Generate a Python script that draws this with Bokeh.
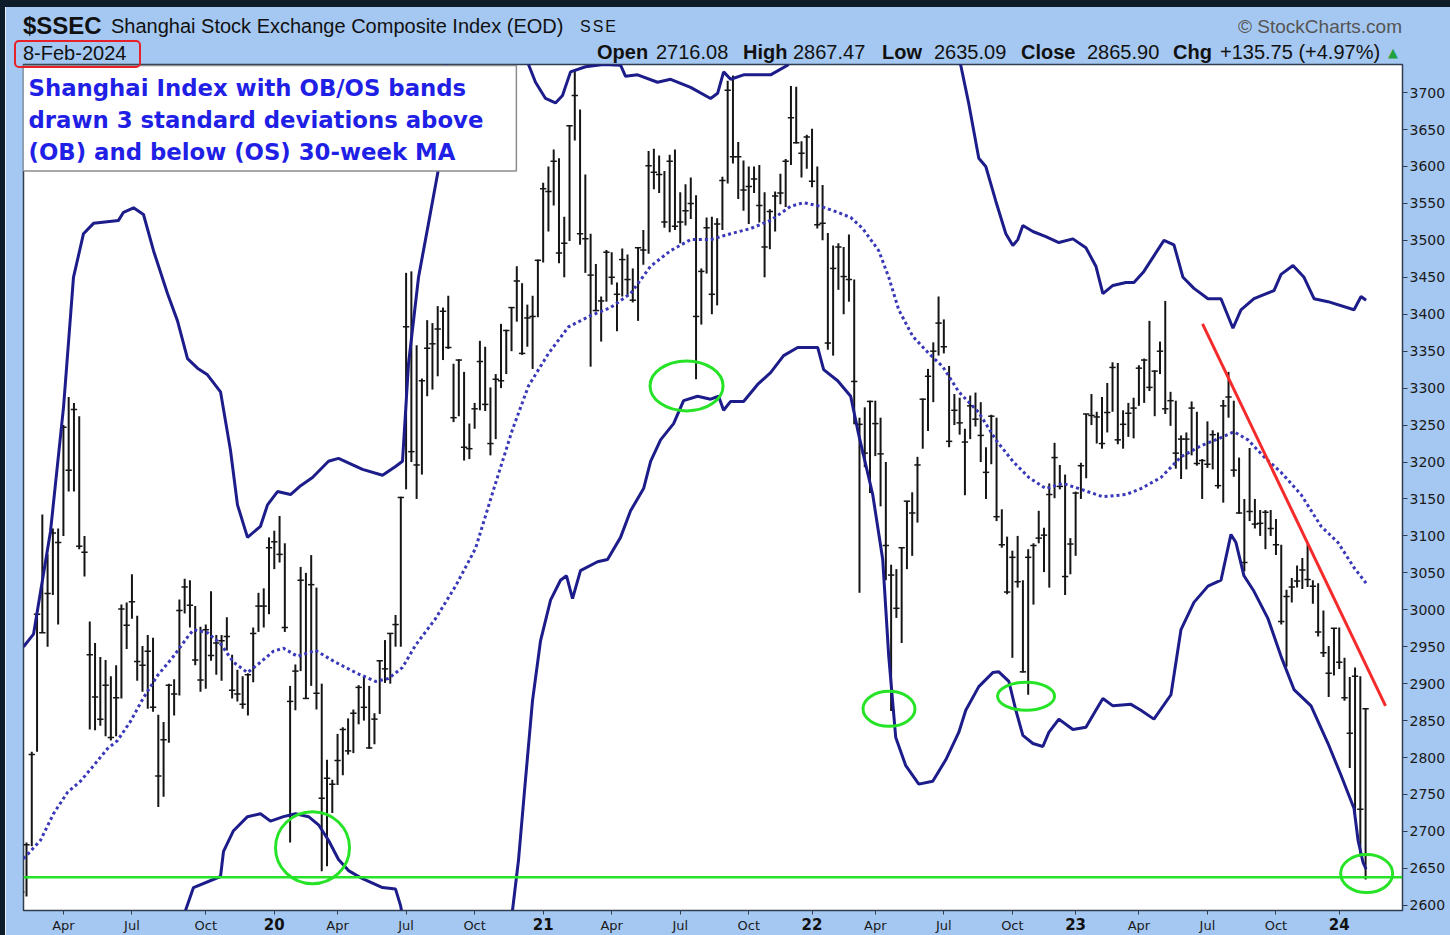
import datetime as dt
from bokeh.plotting import figure
from bokeh.models import Range1d, FixedTicker, Label, Span, ColumnDataSource, LinearAxis, Div
from bokeh.layouts import row, column
from bokeh.embed import file_html
from bokeh.resources import INLINE

# ---------------- weekly bars (week's last trading day) ----------------
dates = [
    "2019-02-01","2019-02-15","2019-02-22","2019-03-01","2019-03-08","2019-03-15","2019-03-22","2019-03-29",
    "2019-04-04","2019-04-12","2019-04-19","2019-04-26","2019-04-30","2019-05-10","2019-05-17","2019-05-24",
    "2019-05-31","2019-06-06","2019-06-14","2019-06-21","2019-06-28","2019-07-05","2019-07-12","2019-07-19",
    "2019-07-26","2019-08-02","2019-08-09","2019-08-16","2019-08-23","2019-08-30","2019-09-06","2019-09-12",
    "2019-09-20","2019-09-27","2019-09-30","2019-10-11","2019-10-18","2019-10-25","2019-11-01","2019-11-08",
    "2019-11-15","2019-11-22","2019-11-29","2019-12-06","2019-12-13","2019-12-20","2019-12-27",
    "2020-01-03","2020-01-10","2020-01-17","2020-01-23","2020-02-07","2020-02-14","2020-02-21","2020-02-28",
    "2020-03-06","2020-03-13","2020-03-20","2020-03-27","2020-04-03","2020-04-10","2020-04-17","2020-04-24",
    "2020-04-30","2020-05-08","2020-05-15","2020-05-22","2020-05-29","2020-06-05","2020-06-12","2020-06-19",
    "2020-06-24","2020-07-03","2020-07-10","2020-07-17","2020-07-24","2020-07-31","2020-08-07","2020-08-14",
    "2020-08-21","2020-08-28","2020-09-04","2020-09-11","2020-09-18","2020-09-25","2020-09-30","2020-10-09",
    "2020-10-16","2020-10-23","2020-10-30","2020-11-06","2020-11-13","2020-11-20","2020-11-27","2020-12-04",
    "2020-12-11","2020-12-18","2020-12-25","2020-12-31",
    "2021-01-08","2021-01-15","2021-01-22","2021-01-29","2021-02-05","2021-02-10","2021-02-19","2021-02-26",
    "2021-03-05","2021-03-12","2021-03-19","2021-03-26","2021-04-02","2021-04-09","2021-04-16","2021-04-23",
    "2021-04-30","2021-05-07","2021-05-14","2021-05-21","2021-05-28","2021-06-04","2021-06-11","2021-06-18",
    "2021-06-25","2021-07-02","2021-07-09","2021-07-16","2021-07-23","2021-07-30","2021-08-06","2021-08-13",
    "2021-08-20","2021-08-27","2021-09-03","2021-09-10","2021-09-17","2021-09-24","2021-09-30","2021-10-15",
    "2021-10-22","2021-10-29","2021-11-05","2021-11-12","2021-11-19","2021-11-26","2021-12-03","2021-12-10",
    "2021-12-17","2021-12-24","2021-12-31",
    "2022-01-07","2022-01-14","2022-01-21","2022-01-28","2022-02-11","2022-02-18","2022-02-25","2022-03-04",
    "2022-03-11","2022-03-18","2022-03-25","2022-04-01","2022-04-08","2022-04-15","2022-04-22","2022-04-29",
    "2022-05-06","2022-05-13","2022-05-20","2022-05-27","2022-06-02","2022-06-10","2022-06-17","2022-06-24",
    "2022-07-01","2022-07-08","2022-07-15","2022-07-22","2022-07-29","2022-08-05","2022-08-12","2022-08-19",
    "2022-08-26","2022-09-02","2022-09-09","2022-09-16","2022-09-23","2022-09-30","2022-10-14","2022-10-21",
    "2022-10-28","2022-11-04","2022-11-11","2022-11-18","2022-11-25","2022-12-02","2022-12-09","2022-12-16",
    "2022-12-23","2022-12-30",
    "2023-01-06","2023-01-13","2023-01-20","2023-02-03","2023-02-10","2023-02-17","2023-02-24","2023-03-03",
    "2023-03-10","2023-03-17","2023-03-24","2023-03-31","2023-04-07","2023-04-14","2023-04-21","2023-04-28",
    "2023-05-05","2023-05-12","2023-05-19","2023-05-26","2023-06-02","2023-06-09","2023-06-16","2023-06-21",
    "2023-06-30","2023-07-07","2023-07-14","2023-07-21","2023-07-28","2023-08-04","2023-08-11","2023-08-18",
    "2023-08-25","2023-09-01","2023-09-08","2023-09-15","2023-09-22","2023-09-28","2023-10-13","2023-10-20",
    "2023-10-27","2023-11-03","2023-11-10","2023-11-17","2023-11-24","2023-12-01","2023-12-08","2023-12-15",
    "2023-12-22","2023-12-29",
    "2024-01-05","2024-01-12","2024-01-19","2024-01-26","2024-02-02","2024-02-08",
]

highs = [
    2618,2685,2808,3000,3129,3075,3110,3110,3250,3288,3280,3262,3100,2984,2955,2936,2932,2910,2925,3007,
    3010,3048,2992,2951,2966,2962,2858,2848,2900,2906,3014,3042,3040,3005,2977,2980,3025,2966,2966,2990,
    2939,2919,2910,2914,2976,3023,3029,
    3098,3107,3127,3090,2897,2926,3058,3050,3074,3030,2900,2797,2770,2832,2841,2853,2865,2898,2910,2897,
    2860,2932,2959,2968,2993,3153,3456,3458,3358,3313,3392,3388,3411,3409,3425,3333,3339,3322,3252,3280,
    3364,3356,3301,3319,3387,3379,3409,3465,3442,3413,3425,3474,
    3578,3600,3623,3611,3532,3656,3731,3677,3589,3509,3468,3424,3487,3484,3443,3489,3481,3462,3491,3514,
    3621,3624,3615,3594,3616,3623,3565,3576,3585,3561,3462,3531,3532,3530,3586,3716,3723,3633,3608,3600,
    3600,3602,3565,3542,3566,3590,3610,3709,3708,3634,3643,
    3651,3600,3575,3510,3493,3496,3491,3508,3447,3260,3274,3283,3283,3260,3200,3061,3055,3084,3147,3159,
    3207,3286,3326,3362,3424,3393,3330,3292,3287,3245,3290,3294,3281,3220,3264,3260,3136,3099,3080,3100,
    3040,3082,3090,3134,3111,3171,3226,3196,3183,3097,
    3160,3199,3265,3292,3268,3288,3307,3335,3334,3270,3280,3287,3331,3340,3391,3324,3363,3418,3295,3283,
    3236,3240,3282,3268,3204,3255,3243,3240,3284,3322,3283,3206,3150,3219,3150,3135,3135,3135,3123,3088,
    3027,3043,3060,3070,3090,3040,3036,2999,2951,2975,
    2976,2935,2909,2922,2910,2867,
]

lows = [
    2573,2612,2680,2808,2969,2950,3020,2980,3100,3160,3160,3082,3045,2838,2837,2843,2829,2823,2829,2880,
    2947,2988,2904,2889,2866,2862,2733,2747,2820,2857,2884,2995,2976,2925,2889,2893,2931,2912,2904,2945,
    2880,2876,2866,2857,2902,2970,2976,
    2994,3055,3064,2970,2685,2864,2917,2880,2897,2865,2646,2653,2725,2763,2776,2804,2806,2845,2850,2812,
    2818,2859,2901,2900,2950,2950,3163,3200,3150,3183,3289,3298,3316,3338,3353,3254,3262,3202,3204,3245,
    3270,3269,3209,3231,3300,3319,3350,3390,3345,3356,3326,3396,
    3470,3512,3547,3469,3450,3499,3635,3494,3456,3329,3404,3363,3417,3440,3377,3424,3425,3416,3391,3467,
    3482,3569,3564,3517,3511,3514,3496,3520,3529,3312,3386,3455,3400,3412,3514,3577,3604,3556,3540,3522,
    3564,3524,3450,3488,3512,3549,3545,3602,3631,3585,3597,
    3572,3516,3500,3352,3344,3433,3400,3417,3251,3023,3193,3158,3208,3140,3040,2863,2989,2955,3055,3073,
    3118,3218,3242,3281,3344,3347,3220,3250,3237,3155,3231,3248,3200,3150,3197,3120,3084,3021,2935,3030,
    2915,2885,3007,3090,3051,3030,3151,3163,3020,3048,
    3073,3150,3178,3250,3225,3218,3240,3268,3224,3218,3234,3232,3276,3280,3296,3262,3319,3265,3249,3191,
    3177,3190,3209,3195,3150,3192,3190,3164,3145,3260,3180,3130,3052,3120,3110,3100,3082,3100,3074,2980,
    2923,3010,3030,3028,3031,3008,2964,2936,2882,2911,
    2920,2877,2786,2724,2666,2635,
]

closes = [
    2618,2682,2804,2994,2969,3022,3104,3091,3247,3189,3271,3086,3078,2939,2882,2852,2898,2827,2881,3001,
    2979,3011,2930,2925,2944,2868,2775,2824,2898,2886,2999,3031,3006,2932,2905,2973,2938,2955,2958,2964,
    2891,2886,2872,2912,2968,3005,3005,
    3084,3092,3075,2976,2876,2917,3040,2880,3034,2887,2745,2772,2764,2796,2838,2809,2860,2895,2868,2813,
    2852,2931,2920,2968,2980,3152,3383,3214,3196,3310,3354,3360,3380,3404,3355,3260,3338,3220,3218,3272,
    3336,3278,3225,3312,3310,3378,3409,3445,3347,3395,3397,3473,
    3570,3566,3607,3483,3496,3655,3696,3509,3502,3453,3405,3418,3484,3450,3427,3474,3447,3419,3490,3487,
    3601,3592,3589,3525,3607,3519,3525,3540,3550,3397,3458,3517,3427,3522,3581,3703,3613,3613,3568,3573,
    3583,3547,3491,3539,3560,3564,3607,3666,3632,3618,3640,
    3580,3521,3523,3361,3462,3491,3451,3447,3309,3251,3212,3282,3252,3211,3087,3047,3002,3084,3147,3131,
    3196,3285,3316,3350,3388,3356,3228,3270,3253,3227,3276,3258,3236,3186,3262,3126,3088,3024,3071,3038,
    2916,3071,3087,3097,3101,3156,3206,3167,3045,3089,
    3158,3195,3265,3263,3261,3225,3267,3328,3230,3251,3266,3273,3327,3338,3301,3323,3350,3272,3283,3212,
    3231,3231,3273,3198,3202,3197,3237,3168,3276,3288,3189,3131,3064,3133,3116,3117,3132,3110,3088,2984,
    3018,3031,3039,3054,3041,3032,2970,2942,2914,2975,
    2929,2881,2833,2910,2730,2866,
]

# ---------------- bands (bar-slot position, value) ----------------
ub_pos = [0.43, 2.33, 5.55, 8.02, 9.91, 11.81, 13.71, 18.45, 19.4, 21.3,
          23.19, 25.09, 27.74, 29.64, 31.54, 33.43, 35.33, 37.8, 39.69, 41.02,
          42.92, 45.38, 46.71, 48.61, 51.08, 53.0, 55.25, 58.28, 60.18, 64.74,
          68.53, 71.0, 72.32, 73.46, 75.36, 77.25, 79.15, 79.91, 81, 84,
          88, 92, 95, 96.22, 97.55, 99.45, 101.34, 102.67, 104.19, 107.03,
          110.45, 113.68, 114.63, 116.91, 120.7, 123.17, 126.97, 130.76, 132.09, 133.23,
          134.56, 137.02, 142.14, 145.37, 148, 152, 160, 168, 174, 178.21,
          179.73, 181.63, 182.96, 184.86, 186.76, 188.09, 189.04, 189.99, 191.89, 194.35,
          196.82, 199.48, 201.95, 203.84, 205.17, 207.07, 209.54, 211.06, 212.95, 214.85,
          216.75, 218.65, 220.36, 222.44, 225.1, 227.57, 229.84, 231.36, 233.83, 237.63,
          238.96, 241.23, 243.32, 245.22, 247.88, 252.81, 254.14, 255.09]
ub_val = [2950, 2967, 3106, 3274, 3450, 3509, 3523, 3527, 3538, 3544,
          3535, 3486, 3428, 3391, 3340, 3327, 3318, 3295, 3216, 3142,
          3098, 3113, 3142, 3160, 3156, 3168, 3179, 3201, 3205, 3190,
          3182, 3194, 3201, 3333, 3450, 3523, 3597, 3670, 3800, 3900,
          3950, 3900, 3790, 3738, 3714, 3692, 3686, 3696, 3728, 3735,
          3738, 3737, 3722, 3724, 3714, 3718, 3707, 3692, 3699, 3728,
          3718, 3724, 3724, 3737, 3790, 3850, 3900, 3880, 3800, 3737,
          3685, 3611, 3600, 3553, 3509, 3493, 3501, 3520, 3512, 3505,
          3497, 3502, 3490, 3465, 3428, 3439, 3443, 3443, 3458, 3479,
          3500, 3494, 3450, 3435, 3421, 3421, 3381, 3406, 3421, 3432,
          3454, 3466, 3450, 3421, 3417, 3406, 3424, 3419]

lb_pos = [29.5, 31.16, 32.67, 37.8, 38.37, 40.26, 42.92, 45.38, 47.28, 49.75,
          52.03, 54.5, 56.39, 58.28, 60.18, 62.08, 64.74, 68.53, 71.0, 71.94,
          73.5, 77, 82, 87, 91, 93.18, 94.32, 95.46, 96.98, 98.5,
          100.4, 102.29, 103.43, 104.57, 106.08, 109.31, 111.21, 113.68, 115.58, 118.05,
          119.38, 121.27, 123.74, 125.64, 128.29, 130.76, 132.28, 133.23, 134.56, 137.02,
          139.68, 142.14, 144.61, 147.27, 151.07, 152.2, 154.86, 157.33, 158.85, 161.51,
          163.41, 164.55, 165.88, 167.78, 170.25, 172.9, 175.37, 177.83, 179.16, 181.63,
          184.29, 185.43, 187.33, 188.66, 189.99, 191.89, 193.78, 194.92, 196.82, 199.48,
          201.95, 203.84, 205.17, 207.07, 210.49, 212.38, 214.85, 218.08, 219.98, 222.44,
          225.1, 227.57, 229.46, 230.41, 231.93, 233.83, 236.49, 238.96, 241.42, 244.65,
          247.88, 250.34, 252.81, 253.57, 254.52, 255.09]
lb_val = [2550, 2593, 2624, 2639, 2673, 2701, 2720, 2724, 2714, 2720,
          2724, 2720, 2709, 2688, 2662, 2647, 2636, 2624, 2622, 2600,
          2540, 2400, 2300, 2300, 2450, 2593, 2661, 2755, 2877, 2958,
          3013, 3040, 3046, 3015, 3053, 3065, 3068, 3098, 3134, 3164,
          3201, 3230, 3252, 3283, 3289, 3285, 3289, 3270, 3282, 3282,
          3305, 3321, 3344, 3355, 3355, 3325, 3310, 3289, 3237, 3156,
          3068, 2937, 2827, 2789, 2764, 2768, 2797, 2834, 2864, 2896,
          2915, 2916, 2903, 2864, 2830, 2819, 2815, 2834, 2852, 2838,
          2841, 2864, 2880, 2870, 2872, 2864, 2852, 2885, 2973, 3010,
          3032, 3040, 3102, 3091, 3046, 3025, 2988, 2937, 2892, 2870,
          2819, 2776, 2731, 2688, 2658, 2649]

ma_pos = [0.43, 3.65, 6.12, 8.78, 11.24, 13.71, 16.36, 18.26, 20.73, 23.19,
          25.85, 28.88, 31.54, 32.67, 35.33, 37.8, 40.26, 42.92, 45.38, 47.85,
          49.75, 52.4, 55.82, 59.61, 63.41, 67.2, 69.67, 72.32, 74.79, 78.58,
          82.38, 86.17, 89.96, 93.18, 96.22, 100.02, 103.81, 107.98, 111.78, 115.58,
          119.38, 123.17, 126.97, 130.76, 134.56, 138.35, 142.14, 145.94, 148.41, 151.64,
          154.86, 157.33, 159.61, 162.65, 164.55, 166.45, 169.11, 172.14, 174.8, 177.83,
          181.63, 184.86, 188.09, 191.13, 194.35, 197.58, 200.62, 205.17, 209.54, 212.38,
          216.18, 219.98, 223.77, 227.57, 230.03, 232.69, 235.73, 238.96, 242.75, 246.55,
          249.77, 252.81, 255.09]
ma_val = [2663, 2688, 2724, 2753, 2768, 2789, 2812, 2823, 2849, 2881,
          2911, 2937, 2963, 2973, 2969, 2954, 2929, 2915, 2929, 2944,
          2948, 2937, 2945, 2929, 2915, 2903, 2907, 2922, 2952, 2988,
          3032, 3083, 3171, 3244, 3303, 3347, 3383, 3398, 3409, 3428,
          3465, 3486, 3501, 3501, 3509, 3516, 3527, 3546, 3551, 3546,
          3538, 3531, 3516, 3486, 3450, 3406, 3370, 3347, 3329, 3295,
          3267, 3230, 3201, 3179, 3164, 3171, 3164, 3153, 3156, 3164,
          3179, 3207, 3222, 3233, 3241, 3230, 3207, 3186, 3156, 3113,
          3091, 3057, 3036]

# annotations (data units)
support_level = 2638
trend_pos = [224.07, 258.78]
trend_val = [3387, 2870]
circle_pos = [55.25, 126.2, 164.6, 190.6, 255.2]
circle_val = [2678, 3303, 2866, 2883, 2643]
circle_w_px = [74, 73, 52, 57, 52]
circle_h_px = [72, 50, 35, 28, 38]

y_ticks = list(range(2600, 3701, 50))
quarter_names = ["Apr", "Jul", "Oct"]

# header texts
symbol = "$SSEC"
index_name = "Shanghai Stock Exchange Composite Index (EOD)"
exchange = "SSE"
credit = "\u00a9 StockCharts.com"
date_text = "8-Feb-2024"
quote = [("Open", "2716.08"), ("High", "2867.47"), ("Low", "2635.09"),
         ("Close", "2865.90"), ("Chg", "+135.75 (+4.97%)")]
note = "Shanghai Index with OB/OS bands\ndrawn 3 standard deviations above\n(OB) and below (OS) 30-week MA"

# ---------------- styling ----------------
PANEL = "#a5c8f2"
DARK = "#0e1b28"
FRAME = "#2e3d4f"
BAR = "#151515"
BAND = "#1c1c8a"
MA_COL = "#3838b8"
GREEN = "#27e327"
RED = "#f52a2a"
FRAME_LEFT_PAGE = 23
FRAME_BOTTOM_PAGE = 910


def sx(px):
    return px - FRAME_LEFT_PAGE


def sy(py):
    return FRAME_BOTTOM_PAGE - py


pos = list(range(len(dates)))
week_start = []
for d in dates:
    day = dt.date.fromisoformat(d)
    week_start.append(day - dt.timedelta(days=day.weekday()))

x_ticks, overrides, year_ticks, year_over = [], {}, [], {}
prev = None
for i, w in enumerate(week_start):
    q = (w.year, (w.month - 1) // 3)
    if prev is not None and q != prev:
        x_ticks.append(i)
        if q[1] == 0:
            overrides[i] = ""
            year_ticks.append(i)
            year_over[i] = "%02d" % (w.year % 100)
        else:
            overrides[i] = quarter_names[q[1] - 1]
    prev = q

fig = figure(
    frame_width=1379, frame_height=846,
    x_range=Range1d(0.43, 262.0), y_range=Range1d(2593, 3738),
    y_axis_location="right",
    output_backend="svg", toolbar_location=None,
    min_border_left=18, min_border_right=48, min_border_top=64, min_border_bottom=25,
    background_fill_color="white", border_fill_color=PANEL,
)
fig.grid.visible = False
fig.outline_line_color = FRAME
fig.outline_line_width = 1.5

src = ColumnDataSource(dict(
    x=pos, h=highs, l=lows, c=closes,
    xl=[i - 0.6 for i in pos], xr=[i + 0.6 for i in pos],
))
fig.segment(x0="x", y0="l", x1="x", y1="h", source=src, line_color=BAR, line_width=2)
fig.segment(x0="xl", y0="c", x1="xr", y1="c", source=src, line_color=BAR, line_width=1.5)

fig.line(ma_pos, ma_val, line_color=MA_COL, line_width=3, line_dash="3 3")
fig.line(ub_pos, ub_val, line_color=BAND, line_width=3)
fig.line(lb_pos, lb_val, line_color=BAND, line_width=3)

fig.add_layout(Span(location=support_level, dimension="width", line_color=GREEN, line_width=2.5))
fig.line(trend_pos, trend_val, line_color=RED, line_width=3)
fig.ellipse(x=circle_pos, y=circle_val, width=circle_w_px, height=circle_h_px,
            width_units="screen", height_units="screen",
            fill_color=None, line_color=GREEN, line_width=3)

# y axis (right)
ya = fig.yaxis[0]
ya.ticker = FixedTicker(ticks=y_ticks)
ya.major_label_text_font = "DejaVu Sans"
ya.major_label_text_font_size = "14px"
ya.major_label_text_color = "#1a1a1a"
ya.major_tick_out = 5
ya.major_tick_in = 0
ya.major_label_standoff = 2
ya.minor_tick_line_color = None
ya.axis_line_color = FRAME
ya.major_tick_line_color = FRAME

# x axis: quarters
xa = fig.xaxis[0]
xa.ticker = FixedTicker(ticks=x_ticks)
xa.major_label_overrides = overrides
xa.major_label_text_font = "DejaVu Sans"
xa.major_label_text_font_size = "13px"
xa.major_label_text_color = "#1a1a1a"
xa.major_tick_out = 4
xa.major_tick_in = 0
xa.major_label_standoff = 3
xa.minor_tick_line_color = None
xa.axis_line_color = FRAME
xa.major_tick_line_color = FRAME

# x axis: bold year labels, pulled up into the same row
yr_axis = LinearAxis(ticker=FixedTicker(ticks=year_ticks), major_label_overrides=year_over,
                     major_label_text_font="DejaVu Sans", major_label_text_font_style="bold",
                     major_label_text_font_size="15px", major_label_text_color="#111111",
                     axis_line_color=None, major_tick_line_color=None, minor_tick_line_color=None,
                     major_tick_out=0, major_tick_in=0, major_label_standoff=-18)
fig.add_layout(yr_axis, "below")

fig.add_layout(Label(x=sx(22), y=sy(65), x_units="screen", y_units="screen", text=note,
                     text_font="DejaVu Sans", text_font_style="bold", text_font_size="22.8px",
                     text_color="#1f1fe6", text_line_height=1.24,
                     text_align="left", text_baseline="top",
                     background_fill_color="white", border_line_color="#8c8c8c", border_line_width=1.5,
                     padding=dict(left=6, right=33, top=9, bottom=6)))

# ---------------- header overlay (page coordinates) ----------------
def span(left, center, size, text, bold=False, color="#111111", extra=""):
    top = center - 0.49 * size
    return ('<span style="position:absolute;left:%.1fpx;top:%.1fpx;font-size:%dpx;line-height:1;'
            'white-space:nowrap;font-weight:%s;color:%s;%s">%s</span>'
            % (left, top, size, "bold" if bold else "normal", color, extra, text))

parts = ['<div style="position:absolute;left:0;top:0;width:1450px;height:7px;background:%s"></div>' % DARK]
parts.append(span(23, 25.5, 24, symbol, bold=True))
parts.append(span(111, 25.5, 20, index_name))
parts.append(span(580, 26.5, 16, exchange, extra="letter-spacing:2px"))
parts.append('<span style="position:absolute;right:48px;top:17px;font-size:19px;line-height:1;'
             'white-space:nowrap;color:#555555">%s</span>' % credit)
parts.append('<div style="position:absolute;left:14px;top:40px;width:127px;height:28px;box-sizing:border-box;'
             'border:2.5px solid #e8202a;border-radius:5px"></div>')
parts.append(span(23, 52.5, 20, date_text))
quote_left = [(597, 656), (743, 793), (882, 934), (1021, 1087), (1173, 1220)]
for (lab, val), (xl, xv) in zip(quote, quote_left):
    parts.append(span(xl, 52, 20, lab, bold=True))
    parts.append(span(xv, 52, 20, val))
parts.append(span(1388, 52, 13, "\u25b2", color="#22a040", extra="font-family:'DejaVu Sans'"))

header = Div(text='<div style="position:relative;width:1450px;height:64px;'
                  'font-family:\'Liberation Sans\'">' + "".join(parts) + "</div>",
             width=1450, height=64,
             styles={"position": "absolute", "left": "0px", "top": "0px", "z-index": "10",
                     "margin": "0", "padding": "0", "overflow": "visible", "pointer-events": "none"})
left_strip = Div(text="", width=5, height=935, styles={"background-color": DARK, "margin": "0", "padding": "0"})

p = column(header, row(left_strip, fig, spacing=0), spacing=0)

open("out.html", "w").write(file_html(p, INLINE))
